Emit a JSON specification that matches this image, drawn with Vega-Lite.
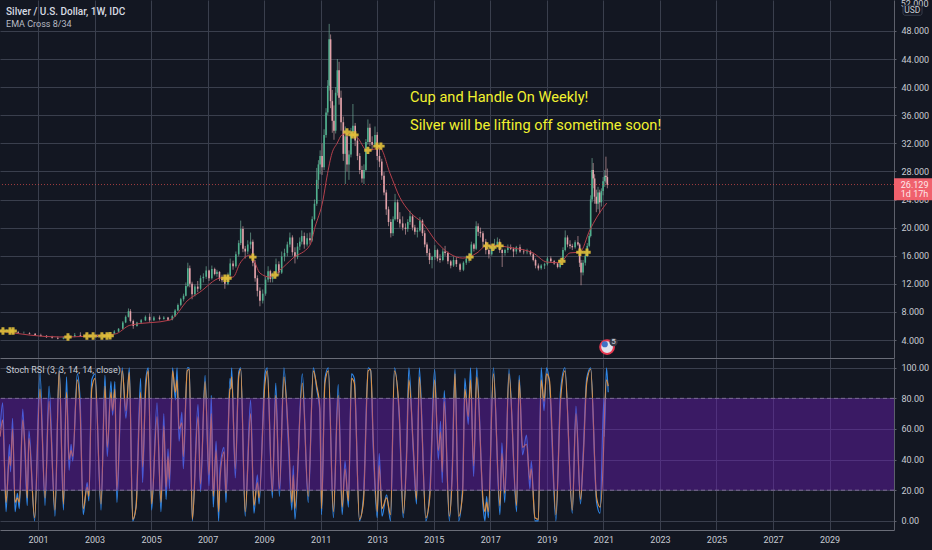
{
"$schema":"https://vega.github.io/schema/vega-lite/v6.json",
"background":"#131722",
"padding":{"left":-2,"top":0,"right":0,"bottom":6},
"spacing":1,
"config":{"view":{"stroke":null},"concat":{"spacing":1},"font":"Roboto"},
"datasets":{
"candles":[
{"t":1999.7,"o":5.3,"h":5.5,"l":5.1,"c":5.2},{"t":1999.9,"o":5.2,"h":5.5,"l":5.1,"c":5.4},{"t":2000.1,"o":5.4,"h":5.5,"l":5.0,"c":5.1},{"t":2000.3,"o":5.1,"h":5.3,"l":4.9,"c":5.0},{"t":2000.5,"o":5.0,"h":5.2,"l":4.9,"c":5.0},{"t":2000.7,"o":5.0,"h":5.1,"l":4.8,"c":4.9},{"t":2000.9,"o":4.9,"h":5.0,"l":4.6,"c":4.7},{"t":2001.1,"o":4.7,"h":4.9,"l":4.5,"c":4.6},{"t":2001.3,"o":4.6,"h":4.7,"l":4.3,"c":4.4},{"t":2001.5,"o":4.4,"h":4.6,"l":4.2,"c":4.3},{"t":2001.7,"o":4.3,"h":4.5,"l":4.1,"c":4.2},{"t":2001.9,"o":4.2,"h":4.5,"l":4.1,"c":4.4},{"t":2002.1,"o":4.4,"h":4.7,"l":4.2,"c":4.5},{"t":2002.3,"o":4.5,"h":5.0,"l":4.4,"c":4.7},{"t":2002.5,"o":4.7,"h":5.1,"l":4.5,"c":4.6},{"t":2002.7,"o":4.6,"h":4.9,"l":4.4,"c":4.5},{"t":2002.9,"o":4.5,"h":4.8,"l":4.4,"c":4.6},{"t":2003.1,"o":4.6,"h":4.8,"l":4.4,"c":4.5},{"t":2003.3,"o":4.5,"h":4.9,"l":4.4,"c":4.8},{"t":2003.5,"o":4.8,"h":5.1,"l":4.6,"c":4.9},{"t":2003.7,"o":4.9,"h":5.4,"l":4.8,"c":5.2},{"t":2003.85,"o":5.2,"h":5.7,"l":5.1,"c":5.6},{"t":2004.0,"o":5.6,"h":6.7,"l":5.5,"c":6.5},{"t":2004.1,"o":6.5,"h":7.5,"l":6.4,"c":7.3},{"t":2004.2,"o":7.3,"h":8.5,"l":7.2,"c":8.1},{"t":2004.27,"o":8.1,"h":8.4,"l":6.5,"c":6.7},{"t":2004.37,"o":6.7,"h":6.9,"l":5.6,"c":6.0},{"t":2004.5,"o":6.0,"h":6.6,"l":5.9,"c":6.5},{"t":2004.65,"o":6.5,"h":7.0,"l":6.3,"c":6.8},{"t":2004.8,"o":6.8,"h":7.5,"l":6.7,"c":7.3},{"t":2004.95,"o":7.3,"h":7.8,"l":6.5,"c":6.8},{"t":2005.1,"o":6.8,"h":7.4,"l":6.7,"c":7.2},{"t":2005.3,"o":7.2,"h":7.5,"l":6.8,"c":7.0},{"t":2005.45,"o":7.0,"h":7.4,"l":6.9,"c":7.2},{"t":2005.6,"o":7.2,"h":7.3,"l":6.8,"c":6.9},{"t":2005.75,"o":6.9,"h":7.6,"l":6.8,"c":7.4},{"t":2005.85,"o":7.4,"h":8.4,"l":7.3,"c":8.2},{"t":2005.95,"o":8.2,"h":9.2,"l":8.1,"c":9.0},{"t":2006.05,"o":9.0,"h":10.0,"l":8.8,"c":9.8},{"t":2006.15,"o":9.8,"h":10.6,"l":9.5,"c":10.3},{"t":2006.23,"o":10.3,"h":12.2,"l":10.2,"c":11.7},{"t":2006.3,"o":11.7,"h":15.0,"l":11.5,"c":14.2},{"t":2006.37,"o":14.2,"h":14.6,"l":11.5,"c":12.0},{"t":2006.45,"o":12.0,"h":12.3,"l":9.8,"c":10.5},{"t":2006.55,"o":10.5,"h":11.9,"l":10.2,"c":11.6},{"t":2006.65,"o":11.6,"h":12.4,"l":10.8,"c":11.3},{"t":2006.75,"o":11.3,"h":13.2,"l":11.1,"c":12.8},{"t":2006.85,"o":12.8,"h":13.5,"l":12.2,"c":13.0},{"t":2006.95,"o":13.0,"h":14.5,"l":12.7,"c":13.9},{"t":2007.05,"o":13.9,"h":14.0,"l":12.4,"c":12.8},{"t":2007.15,"o":12.8,"h":14.6,"l":12.6,"c":14.1},{"t":2007.25,"o":14.1,"h":14.3,"l":13.2,"c":13.4},{"t":2007.33,"o":13.4,"h":14.0,"l":13.0,"c":13.7},{"t":2007.42,"o":13.7,"h":13.8,"l":12.4,"c":12.7},{"t":2007.51,"o":12.7,"h":13.3,"l":12.2,"c":12.5},{"t":2007.61,"o":12.5,"h":13.0,"l":11.3,"c":12.0},{"t":2007.72,"o":12.0,"h":13.6,"l":11.8,"c":13.2},{"t":2007.8,"o":13.2,"h":15.6,"l":13.0,"c":14.9},{"t":2007.9,"o":14.9,"h":15.3,"l":14.0,"c":14.5},{"t":2008.0,"o":14.5,"h":16.6,"l":14.3,"c":16.2},{"t":2008.1,"o":16.2,"h":18.2,"l":15.9,"c":17.8},{"t":2008.17,"o":17.8,"h":21.0,"l":17.5,"c":19.8},{"t":2008.25,"o":19.8,"h":20.2,"l":16.5,"c":17.0},{"t":2008.33,"o":17.0,"h":17.4,"l":15.6,"c":16.6},{"t":2008.42,"o":16.6,"h":18.2,"l":16.2,"c":17.6},{"t":2008.52,"o":17.6,"h":19.3,"l":17.0,"c":18.0},{"t":2008.6,"o":18.0,"h":18.3,"l":14.5,"c":15.0},{"t":2008.68,"o":15.0,"h":15.4,"l":12.3,"c":12.8},{"t":2008.76,"o":12.8,"h":13.2,"l":10.2,"c":11.0},{"t":2008.85,"o":11.0,"h":11.5,"l":8.8,"c":9.6},{"t":2008.95,"o":9.6,"h":11.2,"l":9.2,"c":10.6},{"t":2009.05,"o":10.6,"h":13.0,"l":10.3,"c":12.6},{"t":2009.14,"o":12.6,"h":14.5,"l":12.2,"c":13.8},{"t":2009.22,"o":13.8,"h":14.0,"l":12.2,"c":12.7},{"t":2009.3,"o":12.7,"h":13.6,"l":12.2,"c":13.2},{"t":2009.42,"o":13.2,"h":15.6,"l":13.0,"c":14.8},{"t":2009.52,"o":14.8,"h":15.2,"l":13.2,"c":13.6},{"t":2009.62,"o":13.6,"h":16.6,"l":13.4,"c":15.9},{"t":2009.72,"o":15.9,"h":17.0,"l":15.2,"c":16.4},{"t":2009.82,"o":16.4,"h":18.0,"l":15.9,"c":17.6},{"t":2009.91,"o":17.6,"h":19.3,"l":17.2,"c":18.6},{"t":2010.0,"o":18.6,"h":18.9,"l":16.0,"c":16.5},{"t":2010.09,"o":16.5,"h":17.2,"l":14.9,"c":15.8},{"t":2010.18,"o":15.8,"h":17.8,"l":15.5,"c":17.3},{"t":2010.26,"o":17.3,"h":18.6,"l":16.8,"c":18.0},{"t":2010.33,"o":18.0,"h":19.6,"l":17.6,"c":18.8},{"t":2010.42,"o":18.8,"h":19.3,"l":17.0,"c":17.6},{"t":2010.52,"o":17.6,"h":19.2,"l":17.3,"c":18.5},{"t":2010.62,"o":18.5,"h":19.3,"l":17.6,"c":18.2},{"t":2010.7,"o":18.2,"h":21.6,"l":18.0,"c":21.2},{"t":2010.78,"o":21.2,"h":24.0,"l":21.0,"c":23.4},{"t":2010.86,"o":23.4,"h":28.5,"l":23.1,"c":26.8},{"t":2010.92,"o":26.8,"h":29.6,"l":25.5,"c":29.0},{"t":2010.98,"o":29.0,"h":31.0,"l":27.6,"c":30.2},{"t":2011.05,"o":30.2,"h":32.0,"l":27.5,"c":28.6},{"t":2011.12,"o":28.6,"h":34.0,"l":28.2,"c":33.2},{"t":2011.19,"o":33.2,"h":37.0,"l":32.8,"c":36.4},{"t":2011.25,"o":36.4,"h":41.0,"l":36.0,"c":40.2},{"t":2011.3,"o":40.2,"h":49.0,"l":39.5,"c":46.8},{"t":2011.35,"o":46.8,"h":47.5,"l":37.0,"c":38.0},{"t":2011.41,"o":38.0,"h":39.6,"l":33.5,"c":35.2},{"t":2011.47,"o":35.2,"h":37.4,"l":32.5,"c":33.8},{"t":2011.53,"o":33.8,"h":40.0,"l":33.4,"c":39.2},{"t":2011.59,"o":39.2,"h":44.0,"l":38.8,"c":42.4},{"t":2011.65,"o":42.4,"h":43.6,"l":37.5,"c":38.5},{"t":2011.72,"o":38.5,"h":39.5,"l":33.8,"c":35.0},{"t":2011.8,"o":35.0,"h":35.8,"l":29.5,"c":30.5},{"t":2011.87,"o":30.5,"h":34.4,"l":26.2,"c":33.0},{"t":2011.93,"o":33.0,"h":33.4,"l":28.0,"c":29.0},{"t":2012.0,"o":29.0,"h":31.0,"l":26.8,"c":30.4},{"t":2012.07,"o":30.4,"h":34.2,"l":30.0,"c":33.6},{"t":2012.14,"o":33.6,"h":37.6,"l":33.0,"c":34.5},{"t":2012.22,"o":34.5,"h":34.9,"l":31.6,"c":32.4},{"t":2012.3,"o":32.4,"h":33.0,"l":29.6,"c":30.2},{"t":2012.38,"o":30.2,"h":30.6,"l":27.6,"c":28.2},{"t":2012.46,"o":28.2,"h":28.8,"l":26.4,"c":27.0},{"t":2012.53,"o":27.0,"h":29.0,"l":26.2,"c":28.2},{"t":2012.6,"o":28.2,"h":32.6,"l":28.0,"c":32.2},{"t":2012.67,"o":32.2,"h":35.4,"l":31.8,"c":34.2},{"t":2012.74,"o":34.2,"h":34.8,"l":31.6,"c":32.2},{"t":2012.82,"o":32.2,"h":33.0,"l":31.0,"c":31.8},{"t":2012.92,"o":31.8,"h":34.4,"l":31.4,"c":33.2},{"t":2013.0,"o":33.2,"h":33.6,"l":29.6,"c":30.2},{"t":2013.08,"o":30.2,"h":31.6,"l":28.6,"c":29.4},{"t":2013.16,"o":29.4,"h":29.8,"l":26.8,"c":27.4},{"t":2013.24,"o":27.4,"h":27.9,"l":24.6,"c":25.0},{"t":2013.32,"o":25.0,"h":25.4,"l":21.8,"c":22.6},{"t":2013.4,"o":22.6,"h":23.0,"l":20.2,"c":20.8},{"t":2013.48,"o":20.8,"h":21.2,"l":18.6,"c":19.2},{"t":2013.56,"o":19.2,"h":21.6,"l":18.8,"c":21.2},{"t":2013.63,"o":21.2,"h":24.8,"l":21.0,"c":23.6},{"t":2013.72,"o":23.6,"h":24.0,"l":20.8,"c":21.2},{"t":2013.8,"o":21.2,"h":22.2,"l":20.0,"c":20.6},{"t":2013.9,"o":20.6,"h":21.6,"l":19.6,"c":20.0},{"t":2014.0,"o":20.0,"h":20.6,"l":19.0,"c":19.8},{"t":2014.08,"o":19.8,"h":21.2,"l":19.4,"c":20.8},{"t":2014.16,"o":20.8,"h":22.4,"l":20.4,"c":21.6},{"t":2014.25,"o":21.6,"h":21.9,"l":19.6,"c":20.0},{"t":2014.33,"o":20.0,"h":20.4,"l":19.0,"c":19.4},{"t":2014.42,"o":19.4,"h":20.0,"l":18.6,"c":19.6},{"t":2014.51,"o":19.6,"h":21.5,"l":19.4,"c":21.0},{"t":2014.6,"o":21.0,"h":21.2,"l":18.8,"c":19.2},{"t":2014.68,"o":19.2,"h":19.6,"l":17.2,"c":17.6},{"t":2014.76,"o":17.6,"h":17.9,"l":16.0,"c":16.4},{"t":2014.85,"o":16.4,"h":17.0,"l":14.8,"c":15.4},{"t":2014.94,"o":15.4,"h":16.0,"l":14.2,"c":15.8},{"t":2015.04,"o":15.8,"h":17.5,"l":15.4,"c":16.8},{"t":2015.13,"o":16.8,"h":17.0,"l":15.2,"c":15.6},{"t":2015.22,"o":15.6,"h":16.2,"l":15.0,"c":15.4},{"t":2015.32,"o":15.4,"h":17.0,"l":15.2,"c":16.6},{"t":2015.4,"o":16.6,"h":17.4,"l":16.0,"c":16.4},{"t":2015.5,"o":16.4,"h":16.6,"l":14.8,"c":15.2},{"t":2015.6,"o":15.2,"h":15.4,"l":14.2,"c":14.6},{"t":2015.7,"o":14.6,"h":15.9,"l":14.4,"c":15.4},{"t":2015.8,"o":15.4,"h":15.8,"l":14.4,"c":14.8},{"t":2015.93,"o":14.8,"h":15.0,"l":13.7,"c":14.0},{"t":2016.05,"o":14.0,"h":15.2,"l":13.8,"c":15.0},{"t":2016.15,"o":15.0,"h":16.0,"l":14.7,"c":15.6},{"t":2016.25,"o":15.6,"h":16.4,"l":15.0,"c":15.9},{"t":2016.33,"o":15.9,"h":18.0,"l":15.7,"c":17.6},{"t":2016.42,"o":17.6,"h":17.8,"l":16.6,"c":17.0},{"t":2016.5,"o":17.0,"h":20.9,"l":16.8,"c":20.2},{"t":2016.57,"o":20.2,"h":20.6,"l":18.8,"c":19.4},{"t":2016.65,"o":19.4,"h":20.0,"l":18.6,"c":19.2},{"t":2016.74,"o":19.2,"h":19.5,"l":17.2,"c":18.0},{"t":2016.84,"o":18.0,"h":18.4,"l":16.2,"c":16.8},{"t":2016.95,"o":16.8,"h":17.0,"l":15.6,"c":16.2},{"t":2017.05,"o":16.2,"h":17.6,"l":16.0,"c":17.2},{"t":2017.15,"o":17.2,"h":18.4,"l":16.8,"c":17.6},{"t":2017.25,"o":17.6,"h":18.6,"l":17.2,"c":18.0},{"t":2017.33,"o":18.0,"h":18.4,"l":16.4,"c":16.8},{"t":2017.42,"o":16.8,"h":17.0,"l":14.4,"c":16.4},{"t":2017.52,"o":16.4,"h":17.0,"l":16.0,"c":16.8},{"t":2017.62,"o":16.8,"h":17.6,"l":16.4,"c":17.2},{"t":2017.72,"o":17.2,"h":17.6,"l":16.8,"c":17.0},{"t":2017.82,"o":17.0,"h":17.2,"l":15.8,"c":16.6},{"t":2017.92,"o":16.6,"h":17.4,"l":16.2,"c":17.2},{"t":2018.05,"o":17.2,"h":17.6,"l":16.4,"c":16.6},{"t":2018.18,"o":16.6,"h":16.9,"l":16.2,"c":16.5},{"t":2018.3,"o":16.5,"h":17.0,"l":16.2,"c":16.6},{"t":2018.42,"o":16.6,"h":16.8,"l":16.0,"c":16.2},{"t":2018.52,"o":16.2,"h":16.4,"l":15.2,"c":15.4},{"t":2018.6,"o":15.4,"h":15.6,"l":14.2,"c":14.6},{"t":2018.7,"o":14.6,"h":14.9,"l":13.9,"c":14.2},{"t":2018.8,"o":14.2,"h":14.8,"l":14.0,"c":14.6},{"t":2018.92,"o":14.6,"h":15.0,"l":14.1,"c":14.8},{"t":2019.02,"o":14.8,"h":15.9,"l":14.6,"c":15.6},{"t":2019.14,"o":15.6,"h":15.9,"l":15.0,"c":15.2},{"t":2019.26,"o":15.2,"h":15.4,"l":14.7,"c":14.9},{"t":2019.38,"o":14.9,"h":15.0,"l":14.2,"c":14.4},{"t":2019.47,"o":14.4,"h":15.6,"l":14.2,"c":15.4},{"t":2019.57,"o":15.4,"h":17.2,"l":15.2,"c":16.8},{"t":2019.65,"o":16.8,"h":19.6,"l":16.6,"c":18.6},{"t":2019.73,"o":18.6,"h":18.9,"l":17.2,"c":17.6},{"t":2019.82,"o":17.6,"h":18.2,"l":17.0,"c":17.4},{"t":2019.9,"o":17.4,"h":17.7,"l":16.8,"c":17.2},{"t":2020.0,"o":17.2,"h":18.2,"l":17.0,"c":17.9},{"t":2020.1,"o":17.9,"h":18.8,"l":17.4,"c":17.6},{"t":2020.16,"o":17.6,"h":17.8,"l":14.4,"c":15.0},{"t":2020.21,"o":15.0,"h":15.4,"l":11.8,"c":13.6},{"t":2020.28,"o":13.6,"h":15.4,"l":13.2,"c":15.0},{"t":2020.36,"o":15.0,"h":16.4,"l":14.6,"c":16.0},{"t":2020.43,"o":16.0,"h":17.8,"l":15.8,"c":17.4},{"t":2020.5,"o":17.4,"h":19.2,"l":17.2,"c":18.8},{"t":2020.55,"o":18.8,"h":24.6,"l":18.6,"c":24.0},{"t":2020.6,"o":24.0,"h":29.9,"l":23.6,"c":28.2},{"t":2020.64,"o":28.2,"h":29.2,"l":25.6,"c":27.0},{"t":2020.69,"o":27.0,"h":27.6,"l":23.4,"c":24.4},{"t":2020.75,"o":24.4,"h":25.4,"l":22.2,"c":23.4},{"t":2020.81,"o":23.4,"h":25.8,"l":22.6,"c":25.0},{"t":2020.87,"o":25.0,"h":25.4,"l":22.0,"c":23.6},{"t":2020.93,"o":23.6,"h":25.6,"l":23.0,"c":25.2},{"t":2020.99,"o":25.2,"h":27.2,"l":24.6,"c":26.6},{"t":2021.05,"o":26.6,"h":28.2,"l":25.8,"c":27.4},{"t":2021.09,"o":27.4,"h":30.1,"l":26.4,"c":27.2},{"t":2021.14,"o":27.2,"h":28.4,"l":25.6,"c":26.1}
],
"ema":[
{"t":1999.66,"v":5.28},{"t":2001.78,"v":4.43},{"t":2003.72,"v":4.85},{"t":2004.25,"v":6.1},{"t":2005.67,"v":6.84},{"t":2006.31,"v":9.69},{"t":2006.73,"v":10.83},{"t":2007.44,"v":12.82},{"t":2007.9,"v":12.96},{"t":2008.15,"v":14.95},{"t":2008.5,"v":16.09},{"t":2008.6,"v":15.66},{"t":2008.85,"v":13.53},{"t":2009.21,"v":12.96},{"t":2009.56,"v":13.96},{"t":2010.02,"v":15.66},{"t":2010.62,"v":17.5},{"t":2010.8,"v":20.07},{"t":2011.08,"v":23.9},{"t":2011.22,"v":27.2},{"t":2011.4,"v":30.6},{"t":2011.58,"v":32.0},{"t":2011.75,"v":33.2},{"t":2011.93,"v":33.4},{"t":2012.28,"v":32.9},{"t":2012.64,"v":31.0},{"t":2013.1,"v":31.3},{"t":2013.45,"v":27.75},{"t":2013.8,"v":24.3},{"t":2014.16,"v":22.2},{"t":2014.62,"v":20.6},{"t":2015.11,"v":17.9},{"t":2016.03,"v":15.66},{"t":2016.53,"v":16.4},{"t":2016.88,"v":17.5},{"t":2017.8,"v":17.1},{"t":2018.51,"v":16.4},{"t":2019.0,"v":15.1},{"t":2019.46,"v":15.0},{"t":2019.82,"v":16.4},{"t":2020.17,"v":16.5},{"t":2020.52,"v":19.65},{"t":2020.77,"v":21.5},{"t":2021.12,"v":23.5}
],
"crosses":[
{"t":1999.76,"v":5.28},{"t":2000.01,"v":5.28},{"t":2000.12,"v":5.28},{"t":2002.06,"v":4.43},{"t":2002.73,"v":4.57},{"t":2002.95,"v":4.57},{"t":2003.26,"v":4.57},{"t":2003.44,"v":4.57},{"t":2003.55,"v":4.6},{"t":2007.61,"v":12.8},{"t":2007.72,"v":12.8},{"t":2008.6,"v":15.8},{"t":2009.38,"v":13.25},{"t":2011.93,"v":33.6},{"t":2012.11,"v":33.2},{"t":2012.21,"v":33.2},{"t":2012.67,"v":31.0},{"t":2012.99,"v":31.6},{"t":2013.13,"v":31.6},{"t":2016.28,"v":15.8},{"t":2016.88,"v":17.4},{"t":2017.09,"v":17.2},{"t":2017.34,"v":17.4},{"t":2019.53,"v":15.2},{"t":2020.17,"v":16.5},{"t":2020.42,"v":16.5}
],
"stoch":[
{"t":1999.66,"k":60,"d":55},{"t":1999.75,"k":77,"d":66},{"t":1999.87,"k":6,"d":12},{"t":1999.99,"k":50,"d":42},{"t":2000.03,"k":32,"d":36},{"t":2000.1,"k":67,"d":60},{"t":2000.19,"k":6,"d":12},{"t":2000.27,"k":18,"d":15},{"t":2000.34,"k":8,"d":12},{"t":2000.46,"k":73,"d":66},{"t":2000.54,"k":43,"d":48},{"t":2000.62,"k":10,"d":15},{"t":2000.68,"k":59,"d":54},{"t":2000.88,"k":0,"d":2},{"t":2001.07,"k":97,"d":86},{"t":2001.25,"k":10,"d":15},{"t":2001.39,"k":88,"d":78},{"t":2001.6,"k":3,"d":7},{"t":2001.75,"k":100,"d":98},{"t":2001.9,"k":7,"d":11},{"t":2002.01,"k":94,"d":84},{"t":2002.1,"k":33,"d":40},{"t":2002.17,"k":50,"d":46},{"t":2002.23,"k":39,"d":42},{"t":2002.39,"k":96,"d":92},{"t":2002.49,"k":79,"d":72},{"t":2002.6,"k":4,"d":8},{"t":2002.74,"k":25,"d":22},{"t":2002.8,"k":13,"d":16},{"t":2002.9,"k":92,"d":86},{"t":2003.02,"k":96,"d":93},{"t":2003.23,"k":7,"d":11},{"t":2003.37,"k":95,"d":88},{"t":2003.45,"k":42,"d":48},{"t":2003.58,"k":91,"d":84},{"t":2003.64,"k":69,"d":72},{"t":2003.72,"k":91,"d":86},{"t":2003.79,"k":12,"d":20},{"t":2003.98,"k":100,"d":98},{"t":2004.11,"k":67,"d":72},{"t":2004.23,"k":100,"d":97},{"t":2004.35,"k":0,"d":1},{"t":2004.47,"k":10,"d":9},{"t":2004.63,"k":93,"d":84},{"t":2004.7,"k":25,"d":35},{"t":2004.81,"k":92,"d":86},{"t":2004.9,"k":100,"d":98},{"t":2005.02,"k":7,"d":11},{"t":2005.21,"k":77,"d":68},{"t":2005.35,"k":6,"d":12},{"t":2005.45,"k":70,"d":62},{"t":2005.53,"k":14,"d":22},{"t":2005.6,"k":47,"d":42},{"t":2005.65,"k":21,"d":27},{"t":2005.76,"k":100,"d":98},{"t":2005.86,"k":79,"d":84},{"t":2005.92,"k":100,"d":92},{"t":2005.99,"k":52,"d":60},{"t":2006.09,"k":71,"d":64},{"t":2006.14,"k":34,"d":42},{"t":2006.28,"k":100,"d":98},{"t":2006.35,"k":100,"d":99},{"t":2006.46,"k":0,"d":1},{"t":2006.66,"k":76,"d":68},{"t":2006.75,"k":19,"d":24},{"t":2006.91,"k":95,"d":91},{"t":2007.05,"k":23,"d":30},{"t":2007.13,"k":82,"d":70},{"t":2007.2,"k":9,"d":16},{"t":2007.3,"k":52,"d":46},{"t":2007.39,"k":0,"d":6},{"t":2007.44,"k":34,"d":28},{"t":2007.58,"k":48,"d":45},{"t":2007.65,"k":12,"d":18},{"t":2007.79,"k":93,"d":86},{"t":2007.83,"k":86,"d":87},{"t":2007.85,"k":100,"d":94},{"t":2007.98,"k":28,"d":34},{"t":2008.1,"k":97,"d":94},{"t":2008.17,"k":100,"d":99},{"t":2008.33,"k":3,"d":6},{"t":2008.52,"k":79,"d":70},{"t":2008.64,"k":5,"d":10},{"t":2008.76,"k":30,"d":25},{"t":2008.82,"k":11,"d":15},{"t":2009.03,"k":96,"d":90},{"t":2009.11,"k":100,"d":98},{"t":2009.29,"k":15,"d":19},{"t":2009.41,"k":90,"d":82},{"t":2009.54,"k":16,"d":21},{"t":2009.7,"k":100,"d":94},{"t":2009.87,"k":45,"d":52},{"t":2009.98,"k":7,"d":12},{"t":2010.03,"k":36,"d":30},{"t":2010.09,"k":1,"d":8},{"t":2010.35,"k":96,"d":90},{"t":2010.56,"k":12,"d":16},{"t":2010.74,"k":100,"d":98},{"t":2010.86,"k":86,"d":88},{"t":2010.97,"k":71,"d":74},{"t":2011.03,"k":4,"d":8},{"t":2011.15,"k":93,"d":90},{"t":2011.27,"k":100,"d":98},{"t":2011.45,"k":2,"d":6},{"t":2011.62,"k":89,"d":82},{"t":2011.76,"k":4,"d":9},{"t":2011.86,"k":39,"d":34},{"t":2011.98,"k":9,"d":13},{"t":2012.09,"k":96,"d":93},{"t":2012.19,"k":93,"d":90},{"t":2012.37,"k":0,"d":1},{"t":2012.51,"k":15,"d":12},{"t":2012.68,"k":100,"d":98},{"t":2012.77,"k":98,"d":99},{"t":2012.86,"k":47,"d":52},{"t":2013.0,"k":2,"d":6},{"t":2013.07,"k":44,"d":36},{"t":2013.17,"k":3,"d":8},{"t":2013.33,"k":17,"d":15},{"t":2013.47,"k":0,"d":4},{"t":2013.61,"k":100,"d":98},{"t":2013.78,"k":67,"d":70},{"t":2013.92,"k":2,"d":5},{"t":2014.04,"k":47,"d":42},{"t":2014.12,"k":100,"d":92},{"t":2014.28,"k":43,"d":47},{"t":2014.39,"k":11,"d":14},{"t":2014.49,"k":100,"d":94},{"t":2014.72,"k":0,"d":2},{"t":2014.86,"k":20,"d":16},{"t":2015.03,"k":99,"d":92},{"t":2015.16,"k":40,"d":46},{"t":2015.24,"k":65,"d":58},{"t":2015.3,"k":25,"d":32},{"t":2015.37,"k":85,"d":78},{"t":2015.55,"k":0,"d":3},{"t":2015.65,"k":33,"d":28},{"t":2015.75,"k":99,"d":96},{"t":2015.88,"k":0,"d":3},{"t":2016.02,"k":22,"d":18},{"t":2016.1,"k":93,"d":86},{"t":2016.22,"k":63,"d":68},{"t":2016.3,"k":100,"d":92},{"t":2016.41,"k":29,"d":36},{"t":2016.52,"k":100,"d":94},{"t":2016.75,"k":8,"d":12},{"t":2016.81,"k":0,"d":6},{"t":2016.87,"k":16,"d":12},{"t":2016.93,"k":2,"d":6},{"t":2017.11,"k":100,"d":96},{"t":2017.34,"k":4,"d":10},{"t":2017.41,"k":51,"d":44},{"t":2017.51,"k":12,"d":18},{"t":2017.66,"k":99,"d":96},{"t":2017.93,"k":6,"d":10},{"t":2018.02,"k":95,"d":92},{"t":2018.14,"k":43,"d":48},{"t":2018.28,"k":56,"d":50},{"t":2018.4,"k":21,"d":27},{"t":2018.45,"k":39,"d":34},{"t":2018.58,"k":0,"d":2},{"t":2018.7,"k":0,"d":1},{"t":2018.8,"k":100,"d":92},{"t":2018.9,"k":72,"d":78},{"t":2018.99,"k":100,"d":96},{"t":2019.09,"k":90,"d":92},{"t":2019.32,"k":0,"d":4},{"t":2019.49,"k":86,"d":80},{"t":2019.64,"k":100,"d":98},{"t":2019.9,"k":5,"d":7},{"t":2020.03,"k":75,"d":70},{"t":2020.19,"k":11,"d":14},{"t":2020.29,"k":46,"d":42},{"t":2020.41,"k":93,"d":90},{"t":2020.55,"k":100,"d":99},{"t":2020.76,"k":12,"d":15},{"t":2020.88,"k":5,"d":9},{"t":2021.02,"k":80,"d":55},{"t":2021.03,"k":55,"d":62},{"t":2021.11,"k":100,"d":92},{"t":2021.17,"k":84,"d":88}
]
},
"vconcat":[
{
"width":894,"height":358,
"layer":[
{"data":{"name":"candles"},"mark":{"type":"rule","strokeWidth":0.7,"opacity":0.9},
 "encoding":{
  "x":{"field":"t","type":"quantitative","scale":{"domain":[1999.656,2031.28],"nice":false,"zero":false},
   "axis":{"orient":"bottom","title":null,"values":[2001,2003,2005,2007,2009,2011,2013,2015,2017,2019,2021,2023,2025,2027,2029],"tickCount":40,"labels":false,"ticks":false,"domain":true,"domainColor":"#6a6d78","domainWidth":1,"grid":true,"gridColor":"#3a3f4d"}},
  "y":{"field":"l","type":"quantitative","scale":{"domain":[1.44,52.4],"nice":false,"zero":false},
   "axis":{"orient":"right","title":null,"values":[4,8,12,16,20,24,28,32,36,40,44,48],"tickCount":40,"format":".3f","labelOverlap":false,"labelColor":"#c8cbd3","labelFontSize":9,"labelPadding":5,"tickSize":2,"tickColor":"#5d606b","domain":true,"domainColor":"#5d606b","domainWidth":1,"grid":true,"gridColor":"#3a3f4d"}},
  "y2":{"field":"h"},
  "color":{"condition":{"test":"datum.c>=datum.o","value":"#78b8a0"},"value":"#dba8ac"}
 }},
{"data":{"name":"candles"},"mark":{"type":"rule","strokeWidth":1.6},
 "encoding":{
  "x":{"field":"t","type":"quantitative"},
  "y":{"field":"o","type":"quantitative"},
  "y2":{"field":"c"},
  "color":{"condition":{"test":"datum.c>=datum.o","value":"#4fb08e"},"value":"#e3a2aa"}
 }},
{"data":{"values":[{"v":26.129}]},"mark":{"type":"rule","color":"#ef5350","strokeDash":[1,2],"strokeWidth":1,"opacity":0.65},
 "encoding":{"y":{"field":"v","type":"quantitative"}}},
{"data":{"name":"ema"},"mark":{"type":"line","color":"#b5404c","strokeWidth":1,"interpolate":"monotone"},
 "encoding":{"x":{"field":"t","type":"quantitative"},"y":{"field":"v","type":"quantitative"}}},
{"data":{"name":"crosses"},"mark":{"type":"point","shape":"cross","filled":true,"color":"#e0bf3a","size":55,"opacity":0.9,"clip":true},
 "encoding":{"x":{"field":"t","type":"quantitative"},"y":{"field":"v","type":"quantitative"}}},
{"data":{"values":[{"t":2014.16,"v":38.4,"label":"Cup and Handle On Weekly!"},{"t":2014.16,"v":34.44,"label":"Silver will be lifting off sometime soon!"}]},
 "mark":{"type":"text","align":"left","baseline":"middle","color":"#f2f230","fontSize":14.6,"font":"Roboto"},
 "encoding":{"x":{"field":"t","type":"quantitative"},"y":{"field":"v","type":"quantitative"},"text":{"field":"label"}}},
{"data":{"values":[{"t":1999.87,"v":50.66,"label":"Silver / U.S. Dollar, 1W, IDC"}]},
 "mark":{"type":"text","align":"left","baseline":"middle","color":"#d8dbe3","fontSize":10,"fontWeight":500},
 "encoding":{"x":{"field":"t","type":"quantitative"},"y":{"field":"v","type":"quantitative"},"text":{"field":"label"}}},
{"data":{"values":[{"t":1999.87,"v":48.95,"label":"EMA Cross 8/34"}]},
 "mark":{"type":"text","align":"left","baseline":"middle","color":"#b8bbc4","fontSize":9},
 "encoding":{"x":{"field":"t","type":"quantitative"},"y":{"field":"v","type":"quantitative"},"text":{"field":"label"}}},
{"data":{"values":[{"t":2021.13,"v":3.0}]},"mark":{"type":"point","filled":true,"fill":"#dfe3ec","stroke":"#e8384f","strokeWidth":2,"size":190,"opacity":1},
 "encoding":{"x":{"field":"t","type":"quantitative"},"y":{"field":"v","type":"quantitative"}}},
{"data":{"values":[{"t":2021.05,"v":3.4}]},"mark":{"type":"point","filled":true,"color":"#3f72c4","size":38,"opacity":1},
 "encoding":{"x":{"field":"t","type":"quantitative"},"y":{"field":"v","type":"quantitative"}}},
{"data":{"values":[{"t":2021.36,"v":3.7}]},"mark":{"type":"point","filled":true,"color":"#363a45","size":70,"opacity":1},
 "encoding":{"x":{"field":"t","type":"quantitative"},"y":{"field":"v","type":"quantitative"}}},
{"data":{"values":[{"t":2021.36,"v":3.7,"label":"5"}]},"mark":{"type":"text","color":"#d1d4dc","fontSize":8,"baseline":"middle"},
 "encoding":{"x":{"field":"t","type":"quantitative"},"y":{"field":"v","type":"quantitative"},"text":{"field":"label"}}},
{"data":{"values":[{"t":2031.52,"v":52.35,"label":"52.000"}]},"mark":{"type":"text","align":"left","baseline":"top","color":"#c8cbd3","fontSize":9},
 "encoding":{"x":{"field":"t","type":"quantitative"},"y":{"field":"v","type":"quantitative"},"text":{"field":"label"}}},
{"data":{"values":[{"t":2031.6,"t2":2032.27,"v":51.65,"v2":50.23}]},"mark":{"type":"rect","fill":"#131722","stroke":"#3a3f4d","strokeWidth":1,"cornerRadius":2},
 "encoding":{"x":{"field":"t","type":"quantitative"},"x2":{"field":"t2"},"y":{"field":"v","type":"quantitative"},"y2":{"field":"v2"}}},
{"data":{"values":[{"t":2031.93,"v":50.94,"label":"USD"}]},"mark":{"type":"text","baseline":"middle","color":"#c8cbd3","fontSize":8.5},
 "encoding":{"x":{"field":"t","type":"quantitative"},"y":{"field":"v","type":"quantitative"},"text":{"field":"label"}}},
{"data":{"values":[{"t":2031.28,"t2":2032.72,"v":27.04,"v2":23.91}]},"mark":{"type":"rect","fill":"#f0616d"},
 "encoding":{"x":{"field":"t","type":"quantitative"},"x2":{"field":"t2"},"y":{"field":"v","type":"quantitative"},"y2":{"field":"v2"}}},
{"data":{"values":[{"t":2031.52,"v":26.1,"label":"26.129"},{"t":2031.52,"v":24.85,"label":"1d 17h"}]},"mark":{"type":"text","align":"left","baseline":"middle","color":"#fde8ea","fontSize":9},
 "encoding":{"x":{"field":"t","type":"quantitative"},"y":{"field":"v","type":"quantitative"},"text":{"field":"label"}}}
]
},
{
"width":894,"height":171,
"layer":[
{"data":{"name":"stoch"},"mark":{"type":"line","color":"#2f86e6","strokeWidth":1.2,"clip":true,"interpolate":"monotone"},
 "encoding":{
  "x":{"field":"t","type":"quantitative","scale":{"domain":[1999.656,2031.28],"nice":false,"zero":false},
   "axis":{"orient":"bottom","title":null,"values":[2001,2003,2005,2007,2009,2011,2013,2015,2017,2019,2021,2023,2025,2027,2029],"tickCount":40,"format":"d","labelOverlap":false,"labelColor":"#c8cbd3","labelFontSize":9,"labelPadding":5,"ticks":false,"domain":true,"domainColor":"#6a6d78","domainWidth":1,"grid":true,"gridColor":"#3a3f4d"}},
  "y":{"field":"k","type":"quantitative","scale":{"domain":[-6,105.7],"nice":false,"zero":false},
   "axis":{"orient":"right","title":null,"values":[0,20,40,60,80,100],"tickCount":40,"format":".2f","labelOverlap":false,"labelColor":"#c8cbd3","labelFontSize":9,"labelPadding":5,"tickSize":2,"tickColor":"#5d606b","domain":true,"domainColor":"#5d606b","domainWidth":1,"grid":true,"gridColor":"#3a3f4d"}}
 }},
{"data":{"name":"stoch"},"mark":{"type":"line","color":"#d98f45","strokeWidth":1.2,"clip":true,"interpolate":"monotone"},
 "encoding":{"x":{"field":"t","type":"quantitative"},"y":{"field":"d","type":"quantitative"}}},
{"data":{"values":[{"a":20,"b":80}]},"mark":{"type":"rect","fill":"#7020c0","opacity":0.42},
 "encoding":{"y":{"field":"a","type":"quantitative"},"y2":{"field":"b"}}},
{"data":{"values":[{"v":20},{"v":80}]},"mark":{"type":"rule","color":"#7b6a96","strokeDash":[4,3],"strokeWidth":1},
 "encoding":{"y":{"field":"v","type":"quantitative"}}},
{"data":{"values":[{"t":1999.87,"v":98.2,"label":"Stoch RSI (3, 3, 14, 14, close)"}]},"mark":{"type":"text","align":"left","baseline":"middle","color":"#c8cbd3","fontSize":9},
 "encoding":{"x":{"field":"t","type":"quantitative"},"y":{"field":"v","type":"quantitative"},"text":{"field":"label"}}}
]
}
]
}
